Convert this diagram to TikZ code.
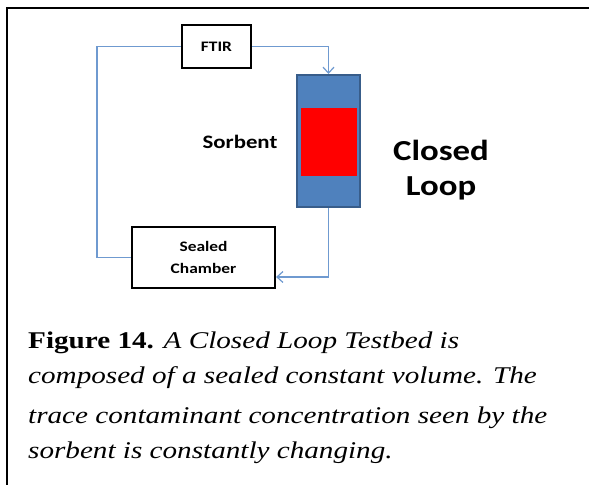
\documentclass[tikz,border=0pt]{standalone}
\usepackage{fontspec}
\setmainfont[FakeStretch=1.215]{Liberation Serif}
\newfontfamily\diagfont[FakeStretch=1.2]{Carlito}
\usetikzlibrary{arrows.meta}
\definecolor{linkblue}{HTML}{6F9AD0}
\definecolor{colfill}{HTML}{4F81BD}
\definecolor{coledge}{HTML}{385D8A}
\begin{document}
\begin{tikzpicture}[x=1pt,y=-1pt,
  blk/.style={draw=black,line width=2.2pt,fill=white,inner sep=0pt,font=\diagfont\bfseries\fontsize{14.5}{22}\selectfont,align=center},
  link/.style={draw=linkblue,line width=1.2pt},
  tiparrow/.style={-{Straight Barb[length=6pt,width=11pt,line width=1.2pt]}},
  captext/.style={anchor=base west,inner sep=0pt,font=\fontsize{24}{28}\selectfont}]
\useasboundingbox (0,0) rectangle (589,485);
\fill[white] (0,0) rectangle (589,485);
% frame (top and left only)
\draw[line width=2pt] (589,8) -- (7,8) -- (7,485);
% nodes
\node[blk,minimum width=69pt,minimum height=43pt] (ftir) at (216.5,46.5) {FTIR};
\node[draw=coledge,fill=colfill,line width=2pt,minimum width=63pt,minimum height=132pt,inner sep=0pt] (col) at (328.5,141) {};
\node[fill=red,minimum width=56pt,minimum height=68pt,inner sep=0pt] (sorb) at (329,142) {};
\node[blk,minimum width=143pt,minimum height=61pt] (chamber) at (203.5,257.5) {Sealed\\Chamber};
\node[font=\diagfont\bfseries\fontsize{19}{22}\selectfont] (sorbentlbl) at (240,142) {Sorbent};
\node[font=\diagfont\bfseries\fontsize{29}{35}\selectfont,align=center] (loop) at (441,170) {Closed\\Loop};
% connectors
\coordinate (c1) at (328.5,277);
\coordinate (c2) at (97,46.5);
\draw[link,tiparrow] (ftir.east) -| (col.north);
\draw[link] (ftir.west) -- (c2) |- (chamber.west);
\draw[link,tiparrow] (col.south) -- (c1) -- (chamber.east |- c1);
% caption
\node[captext] (l1) at (28,348) {\textbf{Figure 14.} \textit{A Closed Loop Testbed is}};
\node[captext] (l2) at (28,383) {\textit{composed of a sealed constant volume. The}};
\node[captext] (l3) at (28,423) {\textit{trace contaminant concentration seen by the}};
\node[captext] (l4) at (28,458) {\textit{sorbent is constantly changing.}};
\end{tikzpicture}
\end{document}
